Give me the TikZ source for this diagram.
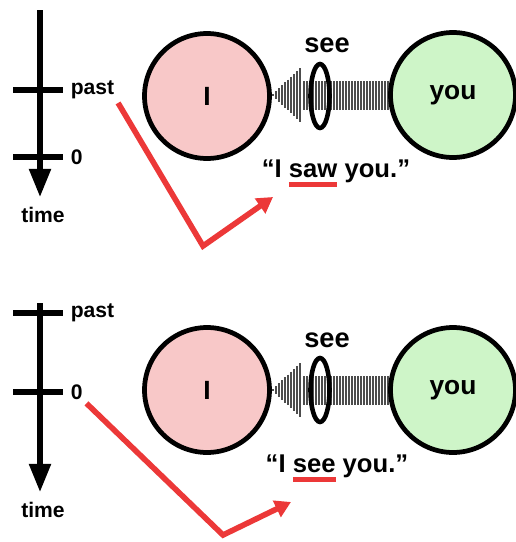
\documentclass[tikz,border=0pt]{standalone}
\usepackage{fontspec}
\setmainfont{Liberation Sans}
\usepackage{tikz}
\usetikzlibrary{arrows.meta, positioning, shapes.geometric}

\definecolor{redarrow}{RGB}{236,56,56}
\definecolor{mepink}{RGB}{248,200,200}
\definecolor{yougreen}{RGB}{206,245,200}

% red bar under one word of the sentence
\newcommand{\redword}[1]{\setbox0\hbox{#1}\rlap{\color{redarrow}\rule[-5.9pt]{\wd0}{2.8pt}}#1}

\tikzset{
  person/.style={circle, draw=black, line width=2.7pt, minimum size=2.5cm,
                 font=\fontsize{15}{16}\selectfont\bfseries},
  lens/.style={ellipse, draw=black, line width=2.6pt, minimum width=0.38cm,
               minimum height=1.28cm, inner sep=0pt},
  tick/.style={line width=2.9pt},
  ticklabel/.style={anchor=west, inner sep=2pt, font=\fontsize{12}{14}\selectfont\bfseries},
  seelabel/.style={font=\fontsize{15.5}{17}\selectfont\bfseries},
  saying/.style={anchor=base, font=\fontsize{14.6}{16}\selectfont\bfseries},
  ray/.style={black!70, line width=0.75pt},
  pointer/.style={draw=redarrow, line width=3.2pt, line join=miter,
                  -{Triangle[width=10pt,length=9pt]}}
}

\begin{document}
\begin{tikzpicture}[x=0.02cm, y=-0.02cm]
    \useasboundingbox (0,0) rectangle (515,542);

    % ---------- upper panel: I saw you ----------
    % time axis
    \coordinate (top1) at (40,10);
    \coordinate (end1) at (40,197);
    \draw[tick, -{Triangle[width=12pt,length=16pt]}] (top1) -- (end1);
    \draw[tick] (13,90) -- (63,90);
    \draw[tick] (13,157) -- (63,157);
    \node[ticklabel] (past1) at (67,90) {past};
    \node[ticklabel] (zero1) at (67,157) {0};
    \node[font=\fontsize{12}{14}\selectfont\bfseries] (time1) at (43,215) {time};

    % light going from you to me
    \foreach \x in {273,276,...,300} {
      \pgfmathsetmacro{\h}{27*(\x-272)/28}
      \draw[ray] (\x,{95-\h}) -- (\x,{95+\h});
    }
    \foreach \x in {304,307,...,392}
      \draw[ray] (\x,81) -- (\x,110);

    \node[person, fill=mepink] (me1) at (207,96) {I};
    \node[person, fill=yougreen] (you1) at (453,95) {you};
    \node[lens] (lens1) at (320,96) {};
    \node[seelabel] (see1) at (327,45) {see};
    \node[saying] (quote1) at (336,177) {“I \redword{saw} you.”};

    % from the past tick to the sentence
    \coordinate (bend1) at (203,246);
    \coordinate (tip1) at (273,197);
    \draw[pointer] (past1.south east) -- (bend1) -- (tip1);

    % ---------- lower panel: I see you ----------
    % time axis
    \coordinate (top2) at (40,303);
    \coordinate (end2) at (40,492);
    \draw[tick, -{Triangle[width=12pt,length=16pt]}] (top2) -- (end2);
    \draw[tick] (13,313) -- (63,313);
    \draw[tick] (13,392) -- (63,392);
    \node[ticklabel] (past2) at (67,313) {past};
    \node[ticklabel] (zero2) at (67,392) {0};
    \node[font=\fontsize{12}{14}\selectfont\bfseries] (time2) at (43,510) {time};

    % light going from you to me
    \foreach \x in {273,276,...,300} {
      \pgfmathsetmacro{\h}{27*(\x-272)/28}
      \draw[ray] (\x,{390-\h}) -- (\x,{390+\h});
    }
    \foreach \x in {304,307,...,392}
      \draw[ray] (\x,376) -- (\x,405);

    \node[person, fill=mepink] (me2) at (207,390) {I};
    \node[person, fill=yougreen] (you2) at (453,390) {you};
    \node[lens] (lens2) at (320,390) {};
    \node[seelabel] (see2) at (327,340) {see};
    \node[saying] (quote2) at (337,472) {“I \redword{see} you.”};

    % from the 0 tick to the sentence
    \coordinate (bend2) at (223,535);
    \coordinate (tip2) at (291,502);
    \draw[pointer] (zero2.south east) -- (bend2) -- (tip2);
\end{tikzpicture}
\end{document}
